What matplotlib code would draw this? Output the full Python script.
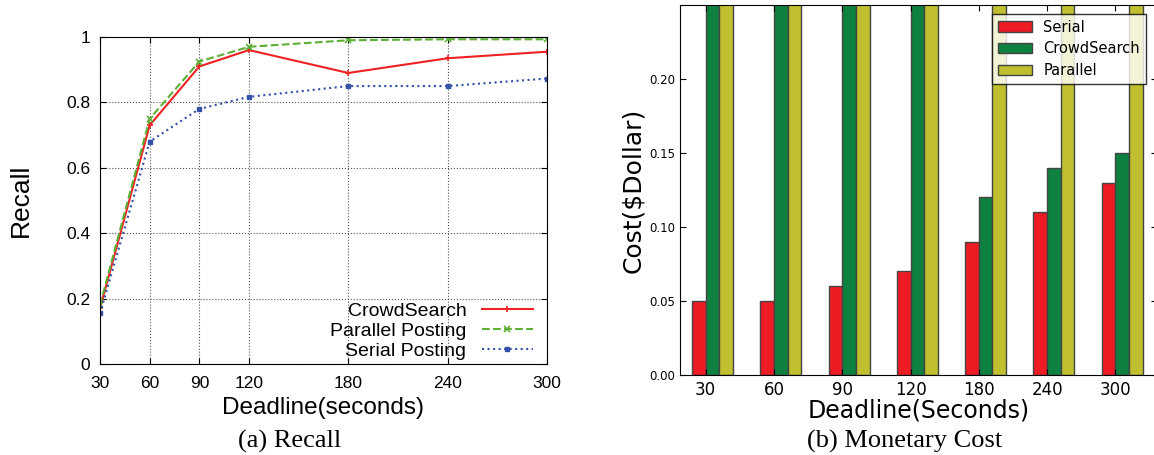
import matplotlib.pyplot as plt
import numpy as np

# recall data (left panel)
deadlines = [30, 60, 90, 120, 180, 240, 300]
recall_crowd = [0.17, 0.73, 0.91, 0.96, 0.89, 0.935, 0.955]
recall_parallel = [0.18, 0.75, 0.925, 0.97, 0.99, 0.993, 0.993]
recall_serial = [0.155, 0.68, 0.78, 0.817, 0.85, 0.85, 0.873]

# cost data (right panel); bars above 0.25 are clipped in the figure
cost_labels = ['30', '60', '90', '120', '180', '240', '300']
cost_serial = [0.05, 0.05, 0.06, 0.07, 0.09, 0.11, 0.13]
cost_crowd = [0.30, 0.30, 0.30, 0.30, 0.12, 0.14, 0.15]
cost_parallel = [0.50, 0.50, 0.50, 0.50, 0.50, 0.50, 0.50]

fig = plt.figure(figsize=(11.54, 4.55), dpi=100)

# ---- (a) Recall ----
sans = 'Liberation Sans'
ax1 = fig.add_axes([100 / 1154, 91 / 455, 447 / 1154, 327 / 455])
ax1.plot(deadlines, recall_crowd, '-', color='#ee2222', lw=1.5, marker='+', ms=4, mew=1.2,
         label='CrowdSearch')
ax1.plot(deadlines, recall_parallel, '--', color='#5cb035', lw=1.5, marker='x', ms=4, mew=1.2,
         label='Parallel Posting')
ax1.plot(deadlines, recall_serial, ':', color='#3352a8', lw=1.5, marker='s', ms=3.5,
         label='Serial Posting')
ax1.set_xlim(30, 300)
ax1.set_ylim(0, 1)
ax1.set_xticks(deadlines)
ax1.set_yticks([0, 0.2, 0.4, 0.6, 0.8, 1])
ax1.set_yticklabels(['0', '0.2', '0.4', '0.6', '0.8', '1'], family=sans, fontsize=12.5)
ax1.set_xticklabels([str(d) for d in deadlines], family=sans, fontsize=12.5)
ax1.tick_params(direction='in', top=True, right=True, length=4, pad=7)
ax1.tick_params(axis='x', pad=9)
ax1.grid(True, linestyle=':', color='#555555', lw=0.8)
ax1.set_xlabel('Deadline(seconds)', family=sans, fontsize=17.5, labelpad=4)
ax1.set_ylabel('Recall', family=sans, fontsize=19, labelpad=24)
leg1 = ax1.legend(loc='lower right', frameon=False, markerfirst=False,
                  prop={'family': sans, 'size': 14}, handlelength=2.6,
                  labelspacing=0.12, borderaxespad=0.0, bbox_to_anchor=(0.985, -0.012))
for t in leg1.get_texts():
    t.set_ha('right')
fig.text(290 / 1154, 1 - 441 / 455, '(a) Recall', ha='center', va='center',
         family='Liberation Serif', fontsize=19)

# ---- (b) Monetary Cost ----
ax2 = fig.add_axes([680 / 1154, 80 / 455, 477 / 1154, 370 / 455])
ind = np.arange(len(cost_labels))
w = 0.2
ax2.bar(ind, cost_serial, w, align='edge', color='#ed1c24', edgecolor='#444444', lw=1,
        label='Serial')
ax2.bar(ind + w, cost_crowd, w, align='edge', color='#0e8040', edgecolor='#444444', lw=1,
        label='CrowdSearch')
ax2.bar(ind + 2 * w, cost_parallel, w, align='edge', color='#bfbf30', edgecolor='#444444', lw=1,
        label='Parallel')
ax2.set_ylim(0, 0.25)
ax2.set_xlim(-0.176, 6.81)
ax2.set_xticks(ind + w)
ax2.set_xticklabels(cost_labels, fontsize=12)
ax2.set_yticks([0, 0.05, 0.10, 0.15, 0.20])
ax2.set_yticklabels(['0.00', '0.05', '0.10', '0.15', '0.20'], fontsize=8.5)
ax2.tick_params(direction='in', top=True, right=True, length=4)
ax2.tick_params(axis='x', pad=4)
ax2.set_xlabel('Deadline(Seconds)', fontsize=17, labelpad=0)
ax2.set_ylabel('Cost($Dollar)', fontsize=18, labelpad=3)
ax2.legend(loc='upper right', fontsize=10.5, fancybox=False, edgecolor='black',
           handlelength=2.3, borderaxespad=0.6, labelspacing=0.45,
           bbox_to_anchor=(0.995, 1.0))
fig.text(905 / 1154, 1 - 441 / 455, '(b) Monetary Cost', ha='center', va='center',
         family='Liberation Serif', fontsize=19)

fig.savefig('out.png', dpi=100)
